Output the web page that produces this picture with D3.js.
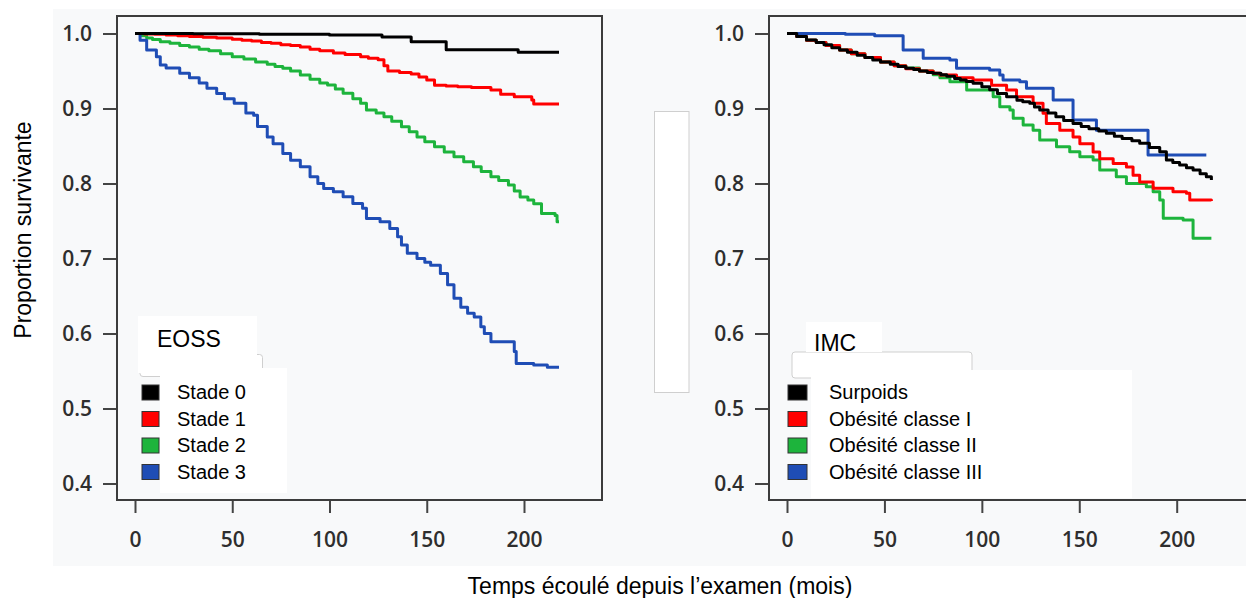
<!DOCTYPE html>
<html>
<head>
<meta charset="utf-8">
<script src="https://cdn.jsdelivr.net/npm/d3@7/dist/d3.min.js"></script>
<style>
    body { margin: 0; background: #fff; }
    svg { display: block; }
</style>
</head>
<body>
<div id="chart"></div>
<script>
// ticks
const xTicks = [0, 50, 100, 150, 200];
const yTicks = [0.4, 0.5, 0.6, 0.7, 0.8, 0.9, 1.0];

const seriesColors = ["#000000", "#ff0000", "#1db43c", "#1f4db5"];

// EOSS panel - [mois, proportion survivante]
const eossTitle = "EOSS";
const eossLabels = ["Stade 0", "Stade 1", "Stade 2", "Stade 3"];

const stade0 = [[0, 1.0], [30, 0.9996], [64, 0.999], [100, 0.998], [127, 0.9955], [142, 0.989],
    [160, 0.9785], [197, 0.975], [218, 0.975]];

const stade1 = [[0, 1.0], [5, 0.9995], [10, 0.999], [16, 0.998], [22, 0.997], [28, 0.996], [35, 0.995],
    [42, 0.994], [50, 0.9925], [55, 0.991], [60, 0.990], [65, 0.988], [70, 0.987], [75, 0.985],
    [80, 0.984], [85, 0.982], [90, 0.979], [95, 0.977], [102, 0.974], [108, 0.972], [116, 0.969],
    [120, 0.967], [125, 0.965], [128, 0.957], [130, 0.950], [136, 0.948], [142, 0.946], [146, 0.942],
    [150, 0.938], [154, 0.931], [160, 0.930], [166, 0.929], [173, 0.928], [183, 0.9247], [188, 0.919],
    [195, 0.9157], [204, 0.9113], [205, 0.906], [218, 0.906]];

const stade2 = [[0, 1.0], [3, 0.997], [6, 0.994], [9, 0.992], [13, 0.989], [18, 0.987], [23, 0.984],
    [28, 0.982], [33, 0.979], [38, 0.977], [44, 0.973], [50, 0.969], [56, 0.966], [62, 0.962],
    [68, 0.959], [72, 0.956], [76, 0.9536], [80, 0.950], [85, 0.9447], [90, 0.939], [95, 0.934],
    [99, 0.9313], [103, 0.926], [107, 0.9202], [112, 0.913], [116, 0.9069], [119, 0.898], [124, 0.894],
    [128, 0.889], [132, 0.883], [137, 0.8757], [141, 0.869], [145, 0.862], [149, 0.8557], [154, 0.849],
    [159, 0.842], [164, 0.8357], [169, 0.829], [174, 0.8224], [178, 0.816], [183, 0.809], [187, 0.804],
    [192, 0.798], [195, 0.790], [198, 0.782], [202, 0.778], [205, 0.773], [209, 0.760], [216, 0.7575],
    [217, 0.749], [218, 0.749]];

const stade3 = [[0, 1.0], [2.6, 0.991], [6, 0.978], [11, 0.969], [13, 0.958], [16, 0.954], [23, 0.947],
    [28, 0.941], [33, 0.934], [37, 0.927], [42, 0.920], [46, 0.913], [51, 0.907], [57, 0.894],
    [61, 0.891], [63, 0.876], [68, 0.862], [71, 0.853], [76, 0.840], [80, 0.831], [85, 0.8223],
    [90, 0.809], [94, 0.800], [97, 0.7935], [102, 0.789], [107, 0.7823], [112, 0.7735], [117, 0.767],
    [119, 0.7535], [126, 0.749], [131, 0.740], [135, 0.729], [137, 0.718], [140, 0.707], [145, 0.700],
    [149, 0.695], [152, 0.691], [157, 0.680], [160.7, 0.665], [164, 0.647], [167.5, 0.635], [171, 0.627],
    [174.4, 0.622], [177.8, 0.609], [179.6, 0.600], [183, 0.589], [195, 0.576], [196, 0.560],
    [205, 0.558], [212, 0.555], [218, 0.555]];

// IMC panel
const imcTitle = "IMC";
const imcLabels = ["Surpoids", "Obésité classe I", "Obésité classe II", "Obésité classe III"];

const surpoids = [[0, 1.0], [5, 0.996], [10, 0.9913], [15, 0.988], [19, 0.985], [23, 0.981], [27, 0.978],
    [31, 0.975], [36, 0.971], [40, 0.968], [44, 0.9647], [48, 0.962], [53, 0.959], [57, 0.956],
    [61, 0.9536], [65, 0.952], [68, 0.950], [72, 0.948], [75, 0.947], [79, 0.945], [82, 0.943],
    [86, 0.940], [89, 0.938], [92, 0.936], [95.5, 0.9336], [100, 0.929], [104, 0.925], [108, 0.920],
    [112.7, 0.9157], [118, 0.911], [121, 0.909], [124.6, 0.9069], [127, 0.902], [129.7, 0.898],
    [134, 0.894], [138, 0.889], [142, 0.884], [146.8, 0.880], [151, 0.876], [155, 0.873], [160, 0.870],
    [163.9, 0.867], [168, 0.863], [172, 0.860], [177, 0.857], [181, 0.8536], [186, 0.848],
    [191.3, 0.8424], [194.7, 0.8313], [198, 0.828], [201.5, 0.8247], [205, 0.821], [208.4, 0.818],
    [212, 0.813], [215.2, 0.809], [217.8, 0.8047]];

const obesite1 = [[0, 1.0], [5, 0.996], [10, 0.991], [15, 0.988], [20, 0.984], [27, 0.978], [33, 0.973],
    [40, 0.968], [48, 0.962], [55, 0.957], [61, 0.953], [68, 0.950], [75, 0.947], [78.5, 0.9447],
    [87, 0.941], [95.5, 0.938], [105, 0.931], [112.7, 0.9247], [117.8, 0.9158], [126.3, 0.907],
    [131.4, 0.8936], [133.1, 0.880], [140, 0.871], [146.8, 0.862], [150.3, 0.853], [157.1, 0.842],
    [160.5, 0.833], [167.4, 0.8267], [174.2, 0.822], [177.6, 0.811], [181, 0.802], [187.9, 0.7936],
    [198.1, 0.789], [205, 0.787], [206.7, 0.778], [217.8, 0.7767]];

const obesite2 = [[0, 1.0], [5, 0.996], [10, 0.991], [15, 0.988], [20, 0.984], [27, 0.978], [33, 0.973],
    [40, 0.968], [48, 0.962], [55, 0.957], [61, 0.954], [68, 0.950], [75, 0.945], [78.5, 0.941],
    [83.6, 0.9358], [92.2, 0.9247], [105.8, 0.9158], [109.2, 0.9025], [114.4, 0.898], [116.1, 0.887],
    [121.2, 0.878], [126.3, 0.871], [129.7, 0.858], [138.3, 0.849], [145.1, 0.8424], [150.3, 0.8358],
    [157.1, 0.8313], [160.5, 0.818], [169, 0.809], [174.2, 0.800], [184.4, 0.7958], [187.9, 0.789],
    [191.3, 0.778], [193.1, 0.7536], [203.3, 0.7513], [208.4, 0.727], [217.8, 0.727]];

const obesite3 = [[0, 1.0], [30, 0.999], [45, 0.997], [59.6, 0.978], [69.9, 0.967], [83.6, 0.9647],
    [87, 0.9536], [104, 0.9513], [109.2, 0.9447], [110.9, 0.938], [119.5, 0.9358], [122.9, 0.927],
    [136.6, 0.9113], [146.8, 0.8847], [158.8, 0.871], [185.3, 0.838], [215.2, 0.838]];

const width = 1246, height = 598;

const svg = d3.select("#chart")
    .append("svg")
    .attr("width", width)
    .attr("height", height);

// panel backdrop
svg.append("rect")
    .attr("x", 53).attr("y", 9)
    .attr("width", width - 53).attr("height", 557)
    .attr("fill", "#f8f9fa");

// leftover white patch between the panels
svg.append("rect")
    .attr("x", 654.5).attr("y", 111.5)
    .attr("width", 34.5).attr("height", 281)
    .attr("fill", "#fff")
    .attr("stroke", "#cfcfcf")
    .attr("stroke-width", 1);

Panel = function(_svg, _opts) {
    this.svg = _svg;
    this.opts = _opts;

    this.initVis();
};

Panel.prototype.initVis = function() {
    var vis = this;
    const o = vis.opts;

    vis.x = d3.scaleLinear().domain([0, 200]).range(o.xRange);
    vis.y = d3.scaleLinear().domain([0.4, 1.0]).range([483.5, 33.5]);

    vis.g = vis.svg.append("g");

    // y axis
    const yAxis = vis.g.append("g")
        .attr("transform", `translate(${o.frame.left},0)`)
        .call(d3.axisLeft(vis.y).tickValues(yTicks).tickFormat(d3.format(".1f"))
            .tickSize(14).tickPadding(11));

    // x axis
    const xAxis = vis.g.append("g")
        .attr("transform", `translate(0,${o.frame.bottom})`)
        .call(d3.axisBottom(vis.x).tickValues(xTicks).tickSize(13).tickPadding(19));

    [yAxis, xAxis].forEach(ax => {
        ax.select(".domain").remove();
        ax.selectAll(".tick line").attr("stroke", "#444").attr("stroke-width", 2);
        ax.selectAll(".tick text")
            .attr("fill", "#2e2e2e")
            .attr("font-family", "'Open Sans', sans-serif")
            .attr("font-weight", 600)
            .attr("font-size", "21px");
    });

    // frame
    vis.g.append("rect")
        .attr("x", o.frame.left).attr("y", o.frame.top)
        .attr("width", o.frame.right - o.frame.left)
        .attr("height", o.frame.bottom - o.frame.top)
        .attr("fill", "none")
        .attr("stroke", "#3c3c3c")
        .attr("stroke-width", 2);

    // survival curves (black drawn last, on top)
    const line = d3.line()
        .x(d => vis.x(d[0]))
        .y(d => vis.y(d[1]))
        .curve(d3.curveStepAfter);

    const order = [2, 1, 3, 0];
    order.forEach(i => {
        vis.g.append("path")
            .attr("d", line(o.series[i]))
            .attr("fill", "none")
            .attr("stroke", seriesColors[i])
            .attr("stroke-width", 3)
            .attr("stroke-linejoin", "round");
    });

    vis.drawLegend();
};

Panel.prototype.drawLegend = function() {
    var vis = this;
    const L = vis.opts.legend;

    // faint outline left behind the boxes
    vis.g.append("rect")
        .attr("x", L.outline[0]).attr("y", L.outline[1])
        .attr("width", L.outline[2]).attr("height", L.outline[3])
        .attr("rx", 3)
        .attr("fill", "#fff")
        .attr("stroke", "#cfcfcf");

    vis.g.append("rect")
        .attr("x", L.titleBox[0]).attr("y", L.titleBox[1])
        .attr("width", L.titleBox[2]).attr("height", L.titleBox[3])
        .attr("fill", "#fff");

    vis.g.append("rect")
        .attr("x", L.itemBox[0]).attr("y", L.itemBox[1])
        .attr("width", L.itemBox[2]).attr("height", L.itemBox[3])
        .attr("fill", "#fff");

    vis.g.append("text")
        .attr("x", L.titleX).attr("y", L.titleY)
        .attr("font-family", "'Liberation Sans', Arial, sans-serif")
        .attr("font-size", "23px")
        .attr("fill", "#000")
        .text(vis.opts.title);

    const items = vis.g.selectAll(".item")
        .data(vis.opts.labels)
        .enter()
        .append("g")
        .attr("class", "item")
        .attr("transform", (d, i) => `translate(0,${399 + i * 26.5})`);

    items.append("rect")
        .attr("x", L.swatchX).attr("y", -14)
        .attr("width", L.swatchW).attr("height", 15)
        .attr("fill", (d, i) => seriesColors[i])
        .attr("stroke", "#333")
        .attr("stroke-width", 1);

    items.append("text")
        .attr("x", L.textX).attr("y", 0)
        .attr("font-family", "'Liberation Sans', Arial, sans-serif")
        .attr("font-size", "20px")
        .attr("fill", "#000")
        .text(d => d);
};

new Panel(svg, {
    frame: {left: 117, top: 16, right: 602, bottom: 500},
    xRange: [135, 524],
    series: [stade0, stade1, stade2, stade3],
    labels: eossLabels,
    title: eossTitle,
    legend: {
        outline: [140, 354.5, 122.5, 22],
        titleBox: [138, 316, 119, 57],
        itemBox: [160, 368, 127, 125],
        titleX: 157, titleY: 347,
        swatchX: 142, swatchW: 17, textX: 177
    }
});

new Panel(svg, {
    frame: {left: 769, top: 16, right: 1256, bottom: 500},
    xRange: [787, 1176.7],
    series: [surpoids, obesite1, obesite2, obesite3],
    labels: imcLabels,
    title: imcTitle,
    legend: {
        outline: [792, 352, 180, 26],
        titleBox: [806, 322, 76, 30],
        itemBox: [811, 370, 321, 128],
        titleX: 814, titleY: 351,
        swatchX: 788, swatchW: 19, textX: 829
    }
});

// shared axis titles
svg.append("text")
    .attr("transform", "translate(31,230) rotate(-90)")
    .attr("text-anchor", "middle")
    .attr("font-family", "'Liberation Sans', Arial, sans-serif")
    .attr("font-size", "23px")
    .attr("fill", "#000")
    .text("Proportion survivante");

svg.append("text")
    .attr("x", 660).attr("y", 594)
    .attr("text-anchor", "middle")
    .attr("font-family", "'Liberation Sans', Arial, sans-serif")
    .attr("font-size", "23px")
    .attr("fill", "#000")
    .text("Temps écoulé depuis l’examen (mois)");
</script>
</body>
</html>
